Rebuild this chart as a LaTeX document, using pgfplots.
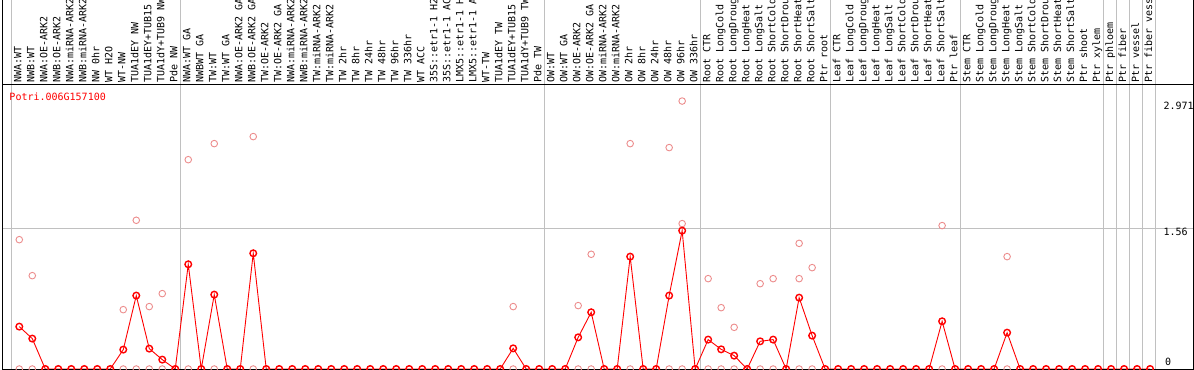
\documentclass[border=0pt]{standalone}
\usepackage{pgfplots}
\pgfplotsset{compat=1.18}
\usepackage{pgfplotstable}
\usepackage{fontspec}
\newfontfamily\mono{DejaVu Sans Mono}
\newcommand\lab{\mono\fontsize{10bp}{11bp}\selectfont}
\definecolor{gridc}{RGB}{192,192,192}
\definecolor{pinkc}{RGB}{236,140,140}
\definecolor{redc}{RGB}{255,0,0}

\pgfplotstableread{
x mean zero
0 0.47 0
1 0.337 0
2 0 0
3 0 0
4 0 0
5 0 0
6 0 0
7 0 0
8 0.215 0
9 0.814 0
10 0.226 0
11 0.104 0
12 0 0
13 1.161 0
14 0 0
15 0.825 0
16 0 0
17 0 0
18 1.283 0
19 0 0
20 0 0
21 0 0
22 0 0
23 0 0
24 0 0
25 0 0
26 0 0
27 0 0
28 0 0
29 0 0
30 0 0
31 0 0
32 0 0
33 0 0
34 0 0
35 0 0
36 0 0
37 0 0
38 0.229 0
39 0 0
40 0 0
41 0 0
42 0 0
43 0.351 0
44 0.629 0
45 0 0
46 0 0
47 1.246 0
48 0 0
49 0 0
50 0.814 0
51 1.534 0
52 0 0
53 0.326 0
54 0.218 0
55 0.148 0
56 0 0
57 0.307 0
58 0.326 0
59 0 0
60 0.791 0
61 0.37 0
62 0 0
63 0 0
64 0 0
65 0 0
66 0 0
67 0 0
68 0 0
69 0 0
70 0 0
71 0.529 0
72 0 0
73 0 0
74 0 0
75 0 0
76 0.403 0
77 0 0
78 0 0
79 0 0
80 0 0
81 0 0
82 0 0
83 0 0
84 0 0
85 0 0
86 0 0
87 0 0
}\meantable

\pgfplotstableread{
x rep
0 1.434
1 1.035
8 0.658
9 1.649
10 0.692
11 0.836
13 2.321
15 2.499
18 2.577
38 0.692
43 0.703
44 1.272
47 2.499
50 2.455
51 2.971
51 1.612
53 1.002
54 0.68
55 0.462
57 0.946
58 1.002
60 1.393
60 1.002
61 1.124
71 1.59
76 1.246
}\reptable

\begin{document}
\begin{tikzpicture}
\begin{axis}[
  scale only axis,
  width=1153bp, height=284bp,
  xmin=-1.33, xmax=87.38,
  ymin=0, ymax=3.149,
  enlargelimits=false,
  clip mode=individual,
  axis line style={draw=none},
  major tick length=0pt,
  ytick=\empty,
  xtick={0,...,87},
  xticklabel pos=upper,
  xticklabel shift=2bp,
  xticklabel style={rotate=90, anchor=mid west, inner sep=0pt, font=\lab},
  xticklabels={
    NWA:WT, NWB:WT, NWA:OE-ARK2, NWB:OE-ARK2, NWA:miRNA-ARK2, NWB:miRNA-ARK2,
    NW 0hr, WT H2O, WT-NW, TUA1dEY NW, TUA1dEY+TUB15, TUA1dY+TUB9 NW, Pde NW,
    NWA:WT GA, NWBWT GA, TW:WT, TW:WT GA, NWA:OE-ARK2 GA, NWB:OE-ARK2 GA,
    TW:OE-ARK2, TW:OE-ARK2 GA, NWA:miRNA-ARK2, NWB:miRNA-ARK2, TW:miRNA-ARK2,
    TW:miRNA-ARK2, TW 2hr, TW 8hr, TW 24hr, TW 48hr, TW 96hr, TW 336hr, WT ACC,
    35S::etr1-1 H2, 35S::etr1-1 AC, LMX5::etr1-1 H, LMX5::etr1-1 A, WT-TW,
    TUA1dEY TW, TUA1dEY+TUB15, TUA1dY+TUB9 TW, Pde TW,
    OW:WT, OW:WT GA, OW:OE-ARK2, OW:OE-ARK2 GA, OW:miRNA-ARK2, OW:miRNA-ARK2,
    OW 2hr, OW 8hr, OW 24hr, OW 48hr, OW 96hr, OW 336hr,
    Root CTR, Root LongCold, Root LongDroug, Root LongHeat, Root LongSalt,
    Root ShortCold, Root ShortDrou, Root ShortHeat, Root ShortSalt, Ptr root,
    Leaf CTR, Leaf LongCold, Leaf LongDroug, Leaf LongHeat, Leaf LongSalt,
    Leaf ShortCold, Leaf ShortDrou, Leaf ShortHeat, Leaf ShortSalt, Ptr leaf,
    Stem CTR, Stem LongCold, Stem LongDroug, Stem LongHeat, Stem LongSalt,
    Stem ShortCold, Stem ShortDrou, Stem ShortHeat, Stem ShortSalt, Ptr shoot,
    Ptr xylem, Ptr phloem, Ptr fiber, Ptr vessel, Ptr fiber vess},
]
\coordinate (O) at (axis cs:-1.33,0);
% grey separators
\pgfplotsinvokeforeach{-0.62,12.38,40.38,52.38,62.38,72.38,83.38,84.38,85.38,86.38,87.38}{
  \draw[gridc, line width=1bp] (axis cs:#1,0) -- ++(0pt,369bp);
}
\draw[gridc, line width=1bp] (axis cs:-1.33,1.56) -- ++(1191bp,0pt);
% frame
\draw[black, line width=1bp] (axis cs:-1.33,0) rectangle ++(1191bp,369bp);
\draw[black, line width=1bp] (axis cs:-1.33,3.149) -- ++(1191bp,0pt);
% y tick labels
\node[anchor=base west, inner sep=0pt, font=\lab] at ([shift={(1161.3bp,259bp)}]axis cs:-1.33,0) {2.971};
\node[anchor=base west, inner sep=0pt, font=\lab] at ([shift={(1161.3bp,133bp)}]axis cs:-1.33,0) {1.56};
\node[anchor=base west, inner sep=0pt, font=\lab] at ([shift={(1163bp,4bp)}]axis cs:-1.33,0) {0};
% gene name
\node[anchor=base west, inner sep=0pt, font=\lab, text=redc] at ([shift={(7.3bp,268.8bp)}]axis cs:-1.33,0) {Potri.006G157100};

\addplot[only marks, pinkc, mark=o, mark size=3.3bp, mark options={line width=0.9bp}] table[x=x, y=zero] {\meantable};
\addplot[only marks, pinkc, mark=o, mark size=3.3bp, mark options={line width=0.9bp}] table[x=x, y=rep] {\reptable};
\addplot[redc, line width=0.9bp, mark=o, mark size=3.3bp, mark options={line width=1.4bp}] table[x=x, y=mean] {\meantable};
\end{axis}
\pgfresetboundingbox
\useasboundingbox ([shift={(-2bp,-1bp)}]O) rectangle ([shift={(1192bp,369bp)}]O);
\end{tikzpicture}
\end{document}
